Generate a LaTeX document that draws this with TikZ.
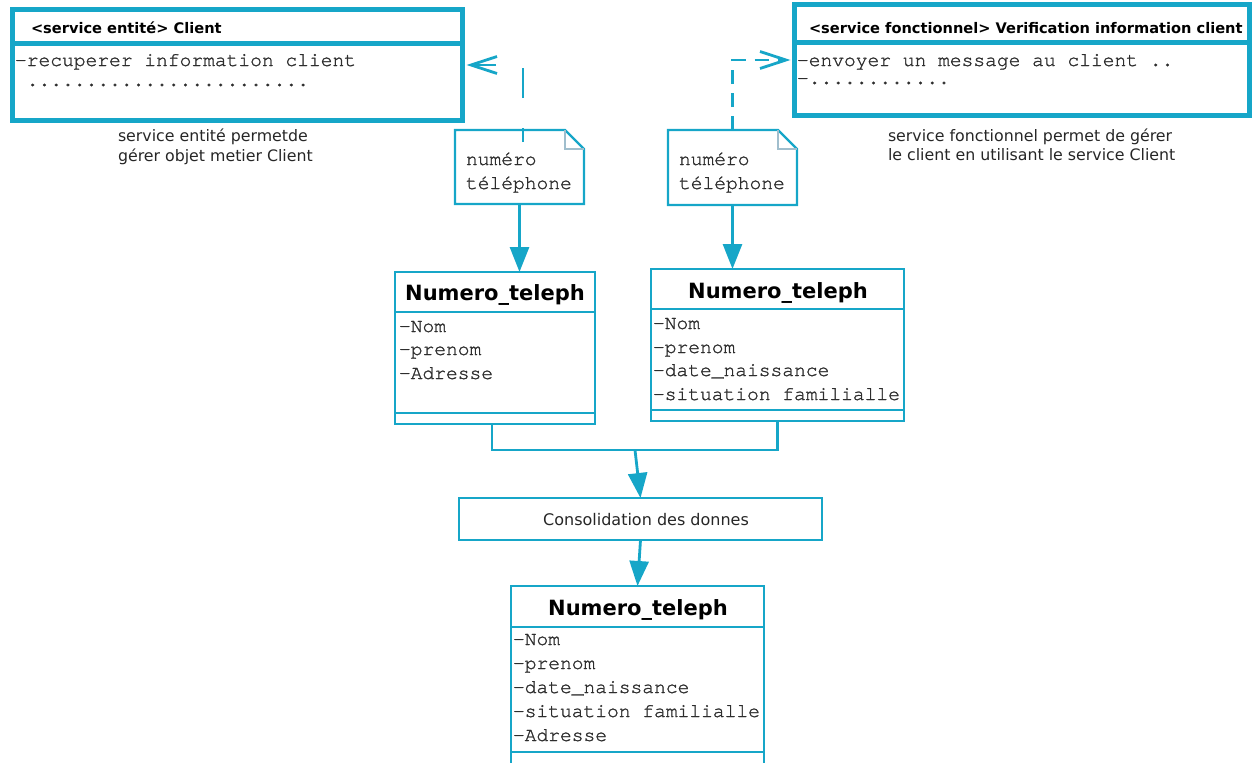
\documentclass[tikz,border=0pt]{standalone}
\usepackage{fontspec}
\setmainfont{DejaVu Sans}
\newfontfamily\monofont[FakeBold=1.3]{TeX Gyre Cursor}
\usetikzlibrary{arrows.meta}
\definecolor{umlblue}{RGB}{22,166,200}
\definecolor{txtgray}{RGB}{45,45,45}
\definecolor{foldgray}{RGB}{160,190,205}

\begin{document}
\begin{tikzpicture}[x=1pt,y=-1pt,
  every node/.style={inner sep=0pt, outer sep=0pt},
  svcbox/.style={draw=umlblue, line width=5pt, rectangle, anchor=north west},
  classbox/.style={draw=umlblue, line width=2.8pt, rectangle, anchor=north west},
  notebox/.style={rectangle, anchor=north west},
  thinsep/.style={draw=umlblue, line width=2.8pt},
  thicksep/.style={draw=umlblue, line width=5pt},
  noteline/.style={draw=umlblue, line width=2.4pt, line join=miter},
  headtext/.style={anchor=base west, font=\bfseries\fontsize{14.6}{16}\selectfont},
  monotext/.style={anchor=base west, text=txtgray, font=\monofont\fontsize{19.6}{22}\selectfont},
  classtitle/.style={anchor=base, font=\bfseries\fontsize{21}{24}\selectfont},
  caption/.style={anchor=base west, text=black!85, font=\fontsize{15.8}{18}\selectfont},
  flow/.style={draw=umlblue, line width=2.8pt, -{Triangle[length=25pt,width=19pt]}},
  joinline/.style={draw=umlblue, line width=2.8pt},
  depend/.style={draw=umlblue, line width=2.8pt, -{Straight Barb[length=26pt,width=17pt]}}
]
\useasboundingbox (0,0) rectangle (1254,763);

% ---- entity service (top left)
\node[svcbox, minimum width=450pt, minimum height=111pt] (client) at (12.5,9.5) {};
\draw[thicksep] (client.north west |- 0,43) -- (client.north east |- 0,43);
\node[headtext] (clientHead) at (31,33) {<service entité> Client};
\node[monotext] (clientOp1) at (15,66) {-recuperer information client};
\node[monotext] (clientOp2) at (15,86) {\phantom{-}........................};
\node[caption] (capA1) at (118,141) {service entité permetde};
\node[caption] (capA2) at (118,161) {gérer objet metier Client};

% ---- functional service (top right)
\node[svcbox, minimum width=455pt, minimum height=111pt] (verif) at (794.5,4.5) {};
\draw[thicksep] (verif.north west |- 0,42) -- (verif.north east |- 0,42);
\node[headtext] (verifHead) at (809,33) {<service fonctionnel> Verification information client};
\node[monotext] (verifOp1) at (797,66) {-envoyer un message au client ..};
\node[monotext] (verifOp2) at (797,84) {-............};
\node[caption] (capB1) at (888,141) {service fonctionnel permet de gérer};
\node[caption] (capB2) at (888,160) {le client en utilisant le service Client};

% ---- notes
\node[notebox, minimum width=129pt, minimum height=74pt] (note1) at (455,130) {};
\node[notebox, minimum width=129pt, minimum height=75pt] (note2) at (668,130) {};
\foreach \n in {note1,note2}{
  \draw[noteline] (\n.north west) -- ([xshift=-19pt]\n.north east)
        -- ([yshift=-19pt]\n.north east) -- (\n.south east) -- (\n.south west) -- cycle;
  \draw[foldgray, line width=1.2pt] ([xshift=-19pt]\n.north east) |- ([yshift=-19pt]\n.north east);
}
\node[monotext] (note1a) at (466,165) {numéro};
\node[monotext] (note1b) at (466,189) {téléphone};
\node[monotext] (note2a) at (679,165) {numéro};
\node[monotext] (note2b) at (679,189) {téléphone};

% ---- dependencies towards the services
\coordinate (d1) at (523,142);
\draw[depend, dash pattern=on 30pt off 30pt, dash phase=16pt]
  (d1) |- ([xshift=4pt]client.east);
\draw[depend, dash pattern=on 14pt off 9pt]
  (note2.north) |- ([xshift=-4pt]verif.west);

% ---- class boxes
\node[classbox, minimum width=200pt, minimum height=152pt] (cls1) at (395,272) {};
\draw[thinsep] (cls1.west |- 0,312) -- (cls1.east |- 0,312);
\draw[thinsep] (cls1.west |- 0,413) -- (cls1.east |- 0,413);
\node[classtitle] (cls1T) at (495,300) {Numero\_teleph};
\node[monotext] (cls1a) at (399,332) {-Nom};
\node[monotext] (cls1b) at (399,355) {-prenom};
\node[monotext] (cls1c) at (399,379) {-Adresse};

\node[classbox, minimum width=253pt, minimum height=152pt] (cls2) at (651,269) {};
\draw[thinsep] (cls2.west |- 0,309) -- (cls2.east |- 0,309);
\draw[thinsep] (cls2.west |- 0,410) -- (cls2.east |- 0,410);
\node[classtitle] (cls2T) at (778,298) {Numero\_teleph};
\node[monotext] (cls2a) at (653,329) {-Nom};
\node[monotext] (cls2b) at (653,353) {-prenom};
\node[monotext] (cls2c) at (653,376) {-date\_naissance};
\node[monotext] (cls2d) at (653,400) {-situation familialle};

\node[classbox, minimum width=363pt, minimum height=42pt] (consol) at (459,498) {};
\node[anchor=base, text=black!85, font=\fontsize{16}{18}\selectfont] (consolT) at (646,525) {Consolidation des donnes};

\node[classbox, minimum width=253pt, minimum height=190pt] (cls3) at (511,586) {};
\draw[thinsep] (cls3.west |- 0,627) -- (cls3.east |- 0,627);
\draw[thinsep] (cls3.west |- 0,752) -- (cls3.east |- 0,752);
\node[classtitle] (cls3T) at (638,615) {Numero\_teleph};
\node[monotext] (cls3a) at (513,645) {-Nom};
\node[monotext] (cls3b) at (513,669) {-prenom};
\node[monotext] (cls3c) at (513,693) {-date\_naissance};
\node[monotext] (cls3d) at (513,717) {-situation familialle};
\node[monotext] (cls3e) at (513,741) {-Adresse};

% ---- data flow
\draw[flow] (note1.south) -- (note1.south |- cls1.north);
\draw[flow] (note2.south) -- (note2.south |- cls2.north);
\coordinate (merge) at (635,450);
\draw[joinline] ([xshift=-3pt]cls1.south) |- (merge) -| (cls2.south);
\draw[flow] (merge) -- (consol.north);
\draw[flow] (consol.south) -- (cls3.north);
\end{tikzpicture}
\end{document}
